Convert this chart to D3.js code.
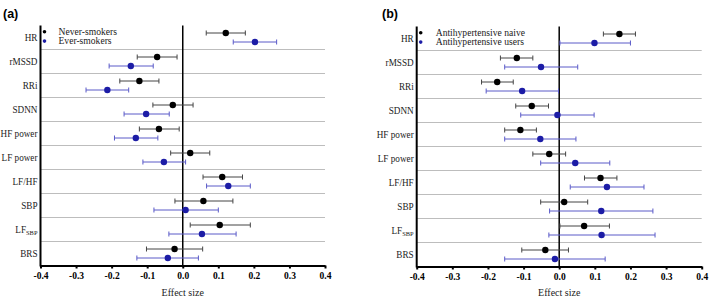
<!DOCTYPE html>
<html>
<head>
<meta charset="utf-8">
<script src="https://cdn.jsdelivr.net/npm/d3@7"></script>
<style>
	body { margin: 0; background: #fff; }
	svg { display: block; }
	.serif { font-family: "Liberation Serif", "Times New Roman", serif; }
	.sans { font-family: "Liberation Sans", Arial, sans-serif; }
</style>
</head>
<body>
<div id="chart"></div>
<script>
// Outcomes, top to bottom
var outcomes = ["HR", "rMSSD", "RRi", "SDNN", "HF power", "LF power", "LF/HF", "SBP", "LFSBP", "BRS"];
var ticks = [-0.4, -0.3, -0.2, -0.1, 0.0, 0.1, 0.2, 0.3, 0.4];

// Panel (a): smoking status — [estimate, lower, upper]
var neverSmokers = [
	[0.121, 0.066, 0.176], [-0.072, -0.128, -0.016], [-0.122, -0.177, -0.067],
	[-0.028, -0.084, 0.029], [-0.067, -0.122, -0.010], [0.021, -0.034, 0.076],
	[0.111, 0.057, 0.168], [0.058, -0.022, 0.141], [0.104, 0.021, 0.190],
	[-0.023, -0.102, 0.056]
];
var everSmokers = [
	[0.203, 0.142, 0.264], [-0.146, -0.207, -0.083], [-0.212, -0.272, -0.152],
	[-0.103, -0.165, -0.038], [-0.132, -0.192, -0.070], [-0.053, -0.112, 0.008],
	[0.128, 0.067, 0.190], [0.008, -0.081, 0.100], [0.054, -0.039, 0.150],
	[-0.042, -0.129, 0.044]
];

// Panel (b): antihypertensive use
var antihypNaive = [
	[0.169, 0.124, 0.214], [-0.119, -0.165, -0.074], [-0.174, -0.218, -0.129],
	[-0.077, -0.122, -0.030], [-0.109, -0.153, -0.064], [-0.028, -0.074, 0.018],
	[0.116, 0.071, 0.162], [0.014, -0.052, 0.080], [0.070, 0.002, 0.141],
	[-0.039, -0.105, 0.026]
];
var antihypUsers = [
	[0.099, 0.002, 0.200], [-0.051, -0.153, 0.052], [-0.104, -0.205, -0.002],
	[-0.005, -0.108, 0.098], [-0.053, -0.153, 0.047], [0.045, -0.052, 0.142],
	[0.134, 0.031, 0.238], [0.118, -0.027, 0.263], [0.119, -0.029, 0.269],
	[-0.012, -0.153, 0.129]
];

var W = 709, H = 298;
var dotBlack = "#000", dotBlue = "#1c1ca6";
var barBlack = "#444", barBlue = "#5a5ac8";
var squeeze = 0.92; // the original type is a bit condensed

var svg = d3.select("#chart").append("svg")
	.attr("width", W)
	.attr("height", H);

// keep hyphen minus like the original
var fmt = (d) => d3.format(".1f")(d).replace("\u2212", "-");

function drawPanel(opts) {
	var x = d3.scaleLinear().domain([-0.4, 0.4]).range([opts.left, opts.right]);
	var y = d3.scaleBand().domain(outcomes).range([opts.top, opts.top + 240]);
	var bottom = opts.top + 240;
	var g = svg.append("g");

	// panel letter
	g.append("text")
		.attr("class", "sans")
		.attr("x", opts.letterX)
		.attr("y", 18)
		.attr("font-weight", "bold")
		.attr("font-size", 12.5)
		.text(opts.letter);

	// row separators
	g.append("g")
		.selectAll("line")
		.data(outcomes.slice(1))
		.join("line")
		.attr("x1", opts.left)
		.attr("x2", opts.right)
		.attr("y1", (d) => y(d))
		.attr("y2", (d) => y(d))
		.attr("stroke", "#bdbdbd")
		.attr("stroke-width", 1);

	// zero line
	g.append("line")
		.attr("x1", x(0)).attr("x2", x(0))
		.attr("y1", opts.top).attr("y2", bottom)
		.attr("stroke", "#000")
		.attr("stroke-width", 1.5);

	// x-axis
	var xAxis = g.append("g")
		.attr("transform", `translate(0,${bottom})`)
		.call(d3.axisBottom(x).tickValues(ticks).tickFormat(fmt).tickSize(3).tickPadding(4).tickSizeOuter(0))
		.call((a) => a.select(".domain").attr("stroke-width", 2));
	xAxis.attr("font-family", null);
	xAxis.selectAll(".tick line").attr("stroke-width", 2);
	xAxis.selectAll("text")
		.attr("class", "serif")
		.attr("font-weight", "bold")
		.attr("font-size", 9.5)
		.attr("fill", "#000");

	g.append("text")
		.attr("class", "serif")
		.attr("x", x(0))
		.attr("y", 296)
		.attr("text-anchor", "middle")
		.attr("font-size", 10)
		.attr("fill", "#222")
		.text("Effect size");

	// y-axis
	g.append("line")
		.attr("x1", opts.left).attr("x2", opts.left)
		.attr("y1", opts.top).attr("y2", bottom + 1)
		.attr("stroke", "#000")
		.attr("stroke-width", 2);

	var labels = g.append("g")
		.selectAll("text")
		.data(outcomes)
		.join("text")
		.attr("class", "serif")
		.attr("transform", (d) => `translate(${opts.left - 3},${y(d) + y.bandwidth() / 2 + 3.5}) scale(${squeeze},1)`)
		.attr("text-anchor", "end")
		.attr("font-size", 10)
		.attr("fill", "#222");
	labels.filter((d) => d !== "LFSBP").text((d) => d);
	labels.filter((d) => d === "LFSBP").each(function () {
		var t = d3.select(this);
		t.append("tspan").text("LF");
		t.append("tspan").attr("font-size", 7).attr("dy", 2).text("SBP");
	});

	// series
	var series = [
		{ values: opts.first, dy: -4.5, dot: dotBlack, bar: barBlack },
		{ values: opts.second, dy: 4.5, dot: dotBlue, bar: barBlue }
	];
	series.forEach(function (s) {
		var sg = g.append("g");
		var rows = sg.selectAll("g")
			.data(s.values)
			.join("g")
			.attr("transform", (d, i) => `translate(0,${y(outcomes[i]) + y.bandwidth() / 2 + s.dy})`);
		rows.append("line")
			.attr("x1", (d) => x(d[1])).attr("x2", (d) => x(d[2]))
			.attr("stroke", s.bar).attr("stroke-width", 1);
		rows.append("line")
			.attr("x1", (d) => x(d[1])).attr("x2", (d) => x(d[1]))
			.attr("y1", -2.5).attr("y2", 2.5)
			.attr("stroke", s.bar).attr("stroke-width", 1);
		rows.append("line")
			.attr("x1", (d) => x(d[2])).attr("x2", (d) => x(d[2]))
			.attr("y1", -2.5).attr("y2", 2.5)
			.attr("stroke", s.bar).attr("stroke-width", 1);
		rows.append("circle")
			.attr("cx", (d) => x(d[0]))
			.attr("r", 3.2)
			.attr("fill", s.dot);
	});

	// legend
	var legend = g.append("g")
		.attr("transform", `translate(${opts.left + 4},${opts.top + 6.2})`);
	opts.legend.forEach(function (name, i) {
		legend.append("circle")
			.attr("cx", 0).attr("cy", i * 9.4)
			.attr("r", 1.8)
			.attr("fill", i === 0 ? dotBlack : dotBlue);
		legend.append("text")
			.attr("class", "serif")
			.attr("x", opts.legendText)
			.attr("y", i * 9.4 + 3.2)
			.attr("font-size", 9.6)
			.attr("fill", "#222")
			.text(name);
	});
}

drawPanel({
	letter: "(a)", letterX: 3,
	left: 40.5, right: 325, top: 25.5,
	first: neverSmokers, second: everSmokers,
	legend: ["Never-smokers", "Ever-smokers"], legendText: 14
});

drawPanel({
	letter: "(b)", letterX: 382,
	left: 416.7, right: 701.7, top: 26.5,
	first: antihypNaive, second: antihypUsers,
	legend: ["Antihypertensive naive", "Antihypertensive users"], legendText: 15
});
</script>
</body>
</html>
